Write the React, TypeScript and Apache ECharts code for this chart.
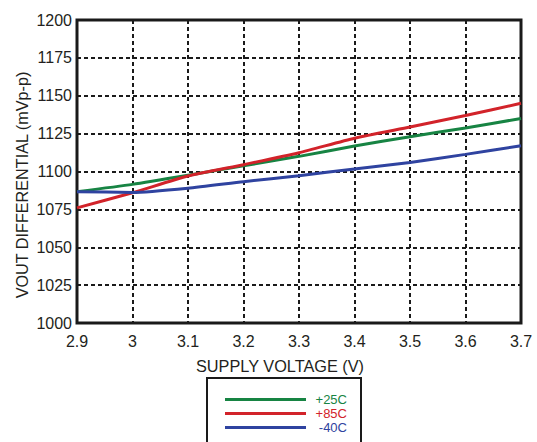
import React, { useEffect, useRef } from "react";
import * as echarts from "echarts";

const supplyVoltage = [2.9, 3.0, 3.1, 3.2, 3.3, 3.4, 3.5, 3.6, 3.7];
const plus25C = [1086.7, 1091.5, 1097.5, 1103.8, 1110.0, 1116.8, 1123.0, 1128.7, 1135.0];
const plus85C = [1076.0, 1086.0, 1097.0, 1104.5, 1112.4, 1122.0, 1129.4, 1137.0, 1145.0];
const minus40C = [1086.7, 1086.2, 1089.0, 1093.3, 1097.2, 1101.7, 1106.0, 1111.3, 1117.0];

const seriesNames = ["+25C", "+85C", "-40C"];
const seriesValues = [plus25C, plus85C, minus40C];
const seriesColors = ["#178443", "#d2232a", "#2f43a0"];

const xTitle = "SUPPLY VOLTAGE (V)";
const yTitle = "VOUT DIFFERENTIAL (mVp-p)";

const FONT = "'Liberation Sans', Arial, sans-serif";
const TEXT = "#231f20";

export default function App() {
  const ref = useRef<HTMLDivElement>(null);
  useEffect(() => {
    if (!ref.current) return;
    const chart = echarts.init(ref.current, undefined, { renderer: "svg" });
    chart.setOption({
      animation: false,
      backgroundColor: "#ffffff",
      grid: {
        left: 77,
        top: 20,
        right: 16,
        bottom: 119,
        show: true,
        borderColor: "#1a1a1a",
        borderWidth: 3,
        backgroundColor: "transparent",
      },
      xAxis: {
        type: "value",
        min: 2.9,
        max: 3.7,
        interval: 0.1,
        axisLine: { show: false },
        axisTick: { show: false },
        axisLabel: { fontFamily: FONT, fontSize: 16, color: TEXT, margin: 10 },
        splitLine: { show: true, lineStyle: { color: "#1a1a1a", type: [4, 3], width: 2 } },
      },
      yAxis: {
        type: "value",
        min: 1000,
        max: 1200,
        interval: 25,
        axisLine: { show: false },
        axisTick: { show: false },
        axisLabel: {
          fontFamily: FONT,
          fontSize: 16,
          color: TEXT,
          margin: 5,
          padding: [0, 0, 7, 0],
          formatter: (v: number) => String(v),
        },
        splitLine: { show: true, lineStyle: { color: "#1a1a1a", type: [4, 3], width: 2 } },
      },
      legend: {
        orient: "vertical",
        left: 225,
        top: 393,
        itemWidth: 81,
        itemHeight: 3,
        itemGap: 1,
        icon: "rect",
        padding: 0,
        data: seriesNames.map((n, i) => ({ name: n, textStyle: { color: seriesColors[i] } })),
        formatter: (name: string) => `{r|${name}}`,
        textStyle: {
          fontFamily: FONT,
          fontSize: 13,
          rich: { r: { width: 36, align: "right", fontFamily: FONT, fontSize: 13 } },
        },
      },
      graphic: [
        {
          type: "rect",
          shape: { x: 207, y: 378, width: 154, height: 120 },
          style: { fill: "none", stroke: "#1a1a1a", lineWidth: 2 },
        },
        {
          type: "text",
          x: 280,
          y: 366,
          style: {
            text: xTitle,
            fontFamily: FONT,
            fontSize: 16.3,
            fill: TEXT,
            align: "center",
            verticalAlign: "middle",
          },
        },
        {
          type: "text",
          x: 22,
          y: 185,
          rotation: Math.PI / 2,
          style: {
            text: yTitle,
            fontFamily: FONT,
            fontSize: 16.2,
            fill: TEXT,
            align: "center",
            verticalAlign: "middle",
          },
        },
      ],
      series: seriesNames.map((name, i) => ({
        name,
        type: "line",
        smooth: 0.2,
        showSymbol: false,
        symbol: "none",
        lineStyle: { color: seriesColors[i], width: 3 },
        itemStyle: { color: seriesColors[i] },
        data: supplyVoltage.map((x, j) => [x, seriesValues[i][j]]),
        z: 3,
      })),
    });
    return () => chart.dispose();
  }, []);
  return <div ref={ref} style={{ width: 537, height: 442, position: "absolute", left: 0, top: 0 }} />;
}
